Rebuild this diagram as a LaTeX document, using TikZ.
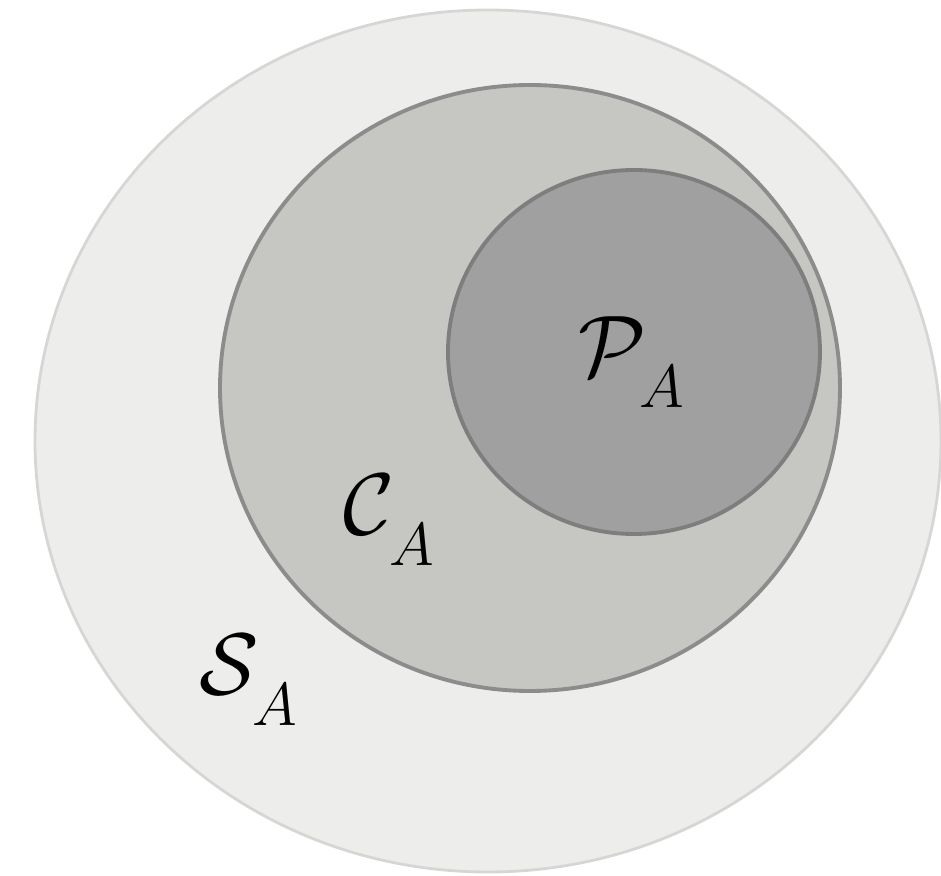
\documentclass[tikz,border=0pt]{standalone}
\usepackage{amsmath}
\usepackage{amssymb}
\usepackage{xcolor}
\usetikzlibrary{positioning}
\definecolor{setS}{HTML}{EDEDEB}
\definecolor{setSline}{HTML}{D6D6D4}
\definecolor{setC}{HTML}{C6C6C3}
\definecolor{setCline}{HTML}{8C8C8C}
\definecolor{setP}{HTML}{A0A0A0}
\definecolor{setPline}{HTML}{7E7E7E}
\newcommand{\lowsub}[1]{_{\lower5pt\hbox{$\scriptstyle #1$}}}
\begin{document}
\begin{tikzpicture}[x=0.01cm,y=-0.01cm,
  lbl/.style={font=\fontsize{27}{30}\selectfont,inner sep=0pt}]
  \useasboundingbox (0,0) rectangle (941,876);
  \def\blob(#1,#2)#3#4#5#6#7{
    \filldraw[draw=#6,fill=#5,line width=#7](#1,#2) ellipse [x radius=#3,y radius=#4];
  }
  \blob(488,441){453}{431}{setS}{setSline}{0.8pt}
  \blob(530,388){310}{303}{setC}{setCline}{1.1pt}
  \blob(634,352){186}{182}{setP}{setPline}{1.1pt}
  \node[lbl] (P) at (632,362) {$\mathcal{P}\lowsub{A}$};
  \node[lbl] (C) at (390,520) {$\mathcal{C}\lowsub{A}$};
  \node[lbl] (S) at (249,680) {$\mathcal{S}\lowsub{A}$};
\end{tikzpicture}
\end{document}
